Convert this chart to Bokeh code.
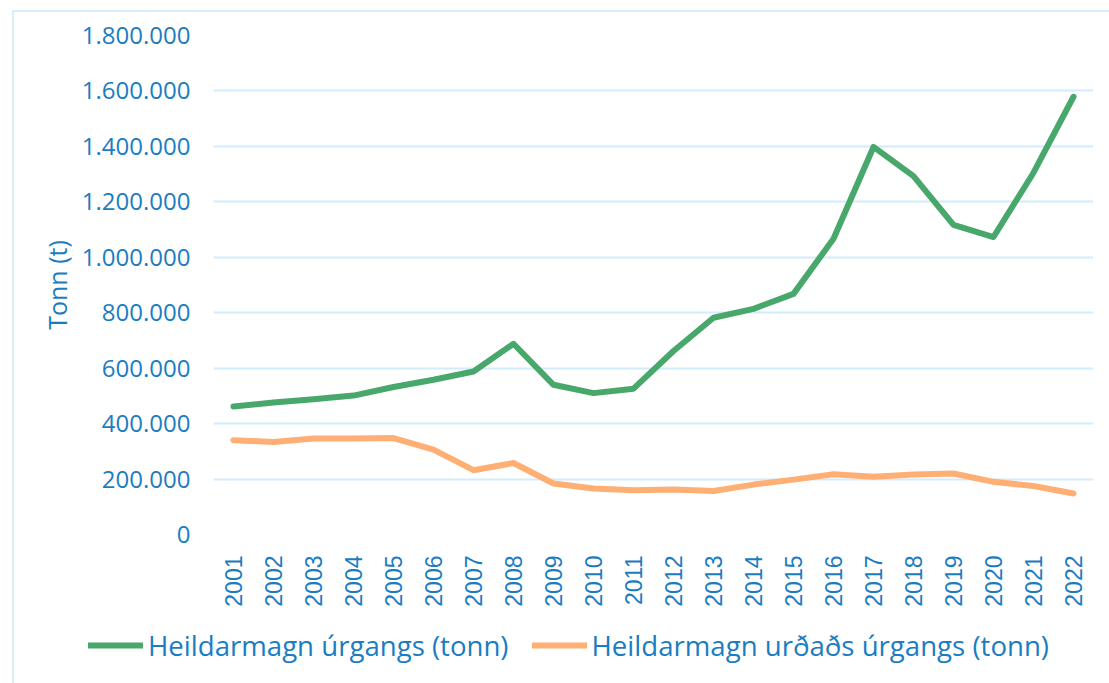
from bokeh.plotting import figure
from bokeh.models import Range1d, FixedTicker, Legend, LegendItem, Div
from bokeh.embed import file_html
from bokeh.resources import INLINE
import math

years = list(range(2001, 2023))
total_waste = [462000, 476000, 488000, 501000, 532000, 558000, 588000, 688000, 540000, 510000, 526000,
               662000, 782000, 814000, 868000, 1067000, 1398000, 1293000, 1117000, 1073000, 1305000, 1579000]
landfilled_waste = [340000, 334000, 346000, 346000, 348000, 306000, 232000, 258000, 184000, 166000, 160000,
                    162000, 157000, 180000, 198000, 217000, 208000, 216000, 220000, 190000, 175000, 148000]
y_ticks = [0, 200000, 400000, 600000, 800000, 1000000, 1200000, 1400000, 1600000, 1800000]
y_tick_labels = ["0", "200.000", "400.000", "600.000", "800.000", "1.000.000", "1.200.000",
                 "1.400.000", "1.600.000", "1.800.000"]
x_tick_labels = [str(y) for y in years]
series_names = ["Heildarmagn úrgangs (tonn)", "Heildarmagn urðaðs úrgangs (tonn)"]
y_label = "Tonn (t)"

TEXT = "#1a7dc2"
GRID = "#d3ecfb"
GREEN = "#48a86c"
ORANGE = "#ffaf73"

p = figure(width=1093, height=619, output_backend="svg", toolbar_location=None,
           x_range=Range1d(2000.5, 2022.5), y_range=Range1d(0, 1800000),
           min_border_left=213, min_border_right=0, min_border_top=35, min_border_bottom=85)
p.outline_line_color = None

l1 = p.line(years, total_waste, line_color=GREEN, line_width=6, line_join="round", line_cap="round")
l2 = p.line(years, landfilled_waste, line_color=ORANGE, line_width=6, line_join="round", line_cap="round")

p.xgrid.visible = False
p.ygrid.grid_line_color = GRID
p.ygrid.grid_line_width = 2
p.ygrid.ticker = FixedTicker(ticks=y_ticks)

p.yaxis.ticker = FixedTicker(ticks=y_ticks)
p.yaxis.major_label_overrides = dict(zip(y_ticks, y_tick_labels))
p.yaxis.axis_line_color = None
p.yaxis.major_tick_line_color = None
p.yaxis.minor_tick_line_color = None
p.yaxis.major_label_text_font = "Open Sans"
p.yaxis.major_label_text_font_size = "24px"
p.yaxis.major_label_text_color = TEXT
p.yaxis.major_label_standoff = 17
p.yaxis.axis_label = y_label
p.yaxis.axis_label_text_font = "Open Sans"
p.yaxis.axis_label_text_font_size = "25px"
p.yaxis.axis_label_text_font_style = "normal"
p.yaxis.axis_label_text_color = TEXT
p.yaxis.axis_label_standoff = 5

p.xaxis.ticker = FixedTicker(ticks=years)
p.xaxis.major_label_overrides = dict(zip(years, x_tick_labels))
p.xaxis.axis_line_color = None
p.xaxis.major_tick_line_color = None
p.xaxis.minor_tick_line_color = None
p.xaxis.major_label_orientation = math.pi / 2
p.xaxis.major_label_text_font = "Liberation Sans"
p.xaxis.major_label_text_font_size = "23px"
p.xaxis.major_label_text_color = TEXT
p.xaxis.major_label_standoff = 15

# legend strip: the series are drawn again here only to carry their styles to the legend;
# the strip's ranges keep them out of view.
lg = figure(width=1093, height=64, output_backend="svg", toolbar_location=None,
            min_border=0, x_axis_type=None, y_axis_type=None,
            x_range=Range1d(0, 1), y_range=Range1d(0, 1))
lg.outline_line_color = None
lg.grid.visible = False
s1 = lg.line(years, total_waste, line_color=GREEN, line_width=6, line_cap="round")
s2 = lg.line(years, landfilled_waste, line_color=ORANGE, line_width=6, line_cap="round")
legend = Legend(items=[LegendItem(label=series_names[0], renderers=[s1]),
                       LegendItem(label=series_names[1], renderers=[s2])],
                orientation="horizontal", location=(88, 19),
                padding=0, margin=0, spacing=23, glyph_width=55, glyph_height=32,
                label_standoff=5, label_text_font="Open Sans", label_text_font_size="27.6px",
                label_text_color=TEXT, border_line_color=None, background_fill_alpha=0)
lg.add_layout(legend, "center")

frame_box = Div(text="", width=1101, height=677,
                styles={"position": "absolute", "left": "7px", "top": "5px",
                        "border-left": "2px solid #d7eefb", "border-top": "2px solid #d7eefb",
                        "pointer-events": "none"})

open("out.html", "w").write(file_html([p, lg, frame_box], INLINE))
